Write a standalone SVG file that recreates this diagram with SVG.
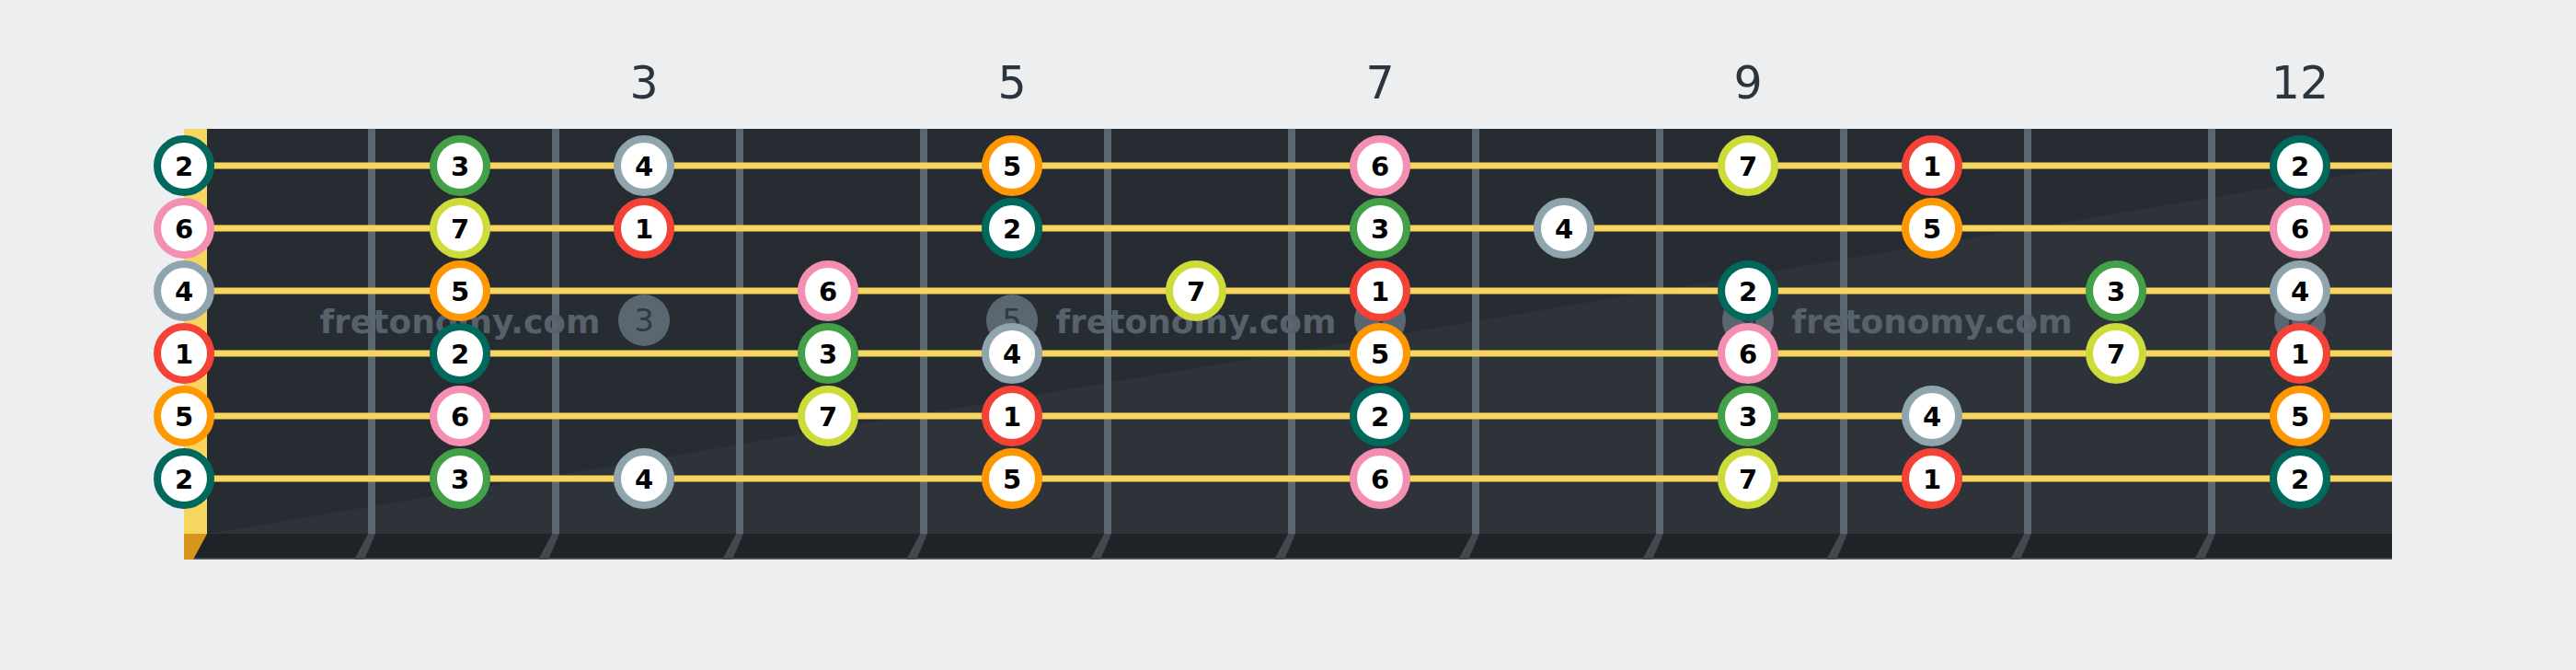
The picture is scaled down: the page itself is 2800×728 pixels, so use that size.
<svg xmlns="http://www.w3.org/2000/svg" width="2800" height="728" viewBox="0 0 2800 728">
<defs>
<style>
.fret{fill:#5a6771}
.fshadow{fill:#44484d}
.str{stroke:#f7d660;stroke-width:7}
.n circle{fill:#ffffff;stroke-width:8}
.n text{font-family:"DejaVu Sans","Liberation Sans",sans-serif;font-weight:bold;font-size:29px;fill:#000;text-anchor:middle}
.c1 circle{stroke:#f44336}
.c2 circle{stroke:#00695c}
.c3 circle{stroke:#43a047}
.c4 circle{stroke:#90a4ae}
.c5 circle{stroke:#ff9800}
.c6 circle{stroke:#f48fb1}
.c7 circle{stroke:#cddc39}
.fnum{font-family:"DejaVu Sans","Liberation Sans",sans-serif;font-size:49px;fill:#2b3540;text-anchor:middle}
.mk circle{fill:#5b6770}
.mk text{font-family:"DejaVu Sans","Liberation Sans",sans-serif;font-size:34px;fill:#2f3a44;text-anchor:middle}
.wm{font-family:"DejaVu Sans","Liberation Sans",sans-serif;font-weight:bold;font-size:36px;fill:#56616b;text-anchor:middle}
</style>
</defs>
<rect width="2800" height="728" fill="#eceef0"/>

<g id="fret-numbers">
<text class="fnum" x="700" y="107">3</text>
<text class="fnum" x="1100" y="107">5</text>
<text class="fnum" x="1500" y="107">7</text>
<text class="fnum" x="1900" y="107">9</text>
<text class="fnum" x="2500" y="107">12</text>
</g>

<g id="board">
<rect x="200" y="140" width="2400" height="440" fill="#272c33"/>
<polygon points="225,580 2600,182 2600,580" fill="#2e333a"/>
<rect x="200" y="580" width="2400" height="28" fill="#1f2327"/>
<rect x="200" y="606.5" width="2400" height="1.5" fill="#5c6770"/>
<polygon points="200,580 225,580 210,608 200,608" fill="#d8951c"/>
<rect x="200" y="140" width="25" height="440" fill="#f7d660"/>
</g>

<g id="frets">
<rect class="fret" x="400" y="140" width="8" height="440"/>
<rect class="fret" x="600" y="140" width="8" height="440"/>
<rect class="fret" x="800" y="140" width="8" height="440"/>
<rect class="fret" x="1000" y="140" width="8" height="440"/>
<rect class="fret" x="1200" y="140" width="8" height="440"/>
<rect class="fret" x="1400" y="140" width="8" height="440"/>
<rect class="fret" x="1600" y="140" width="8" height="440"/>
<rect class="fret" x="1800" y="140" width="8" height="440"/>
<rect class="fret" x="2000" y="140" width="8" height="440"/>
<rect class="fret" x="2200" y="140" width="8" height="440"/>
<rect class="fret" x="2400" y="140" width="8" height="440"/>
<polygon class="fshadow" points="400,580 408,580 396,608 385,608"/>
<polygon class="fshadow" points="600,580 608,580 596,608 585,608"/>
<polygon class="fshadow" points="800,580 808,580 796,608 785,608"/>
<polygon class="fshadow" points="1000,580 1008,580 996,608 985,608"/>
<polygon class="fshadow" points="1200,580 1208,580 1196,608 1185,608"/>
<polygon class="fshadow" points="1400,580 1408,580 1396,608 1385,608"/>
<polygon class="fshadow" points="1600,580 1608,580 1596,608 1585,608"/>
<polygon class="fshadow" points="1800,580 1808,580 1796,608 1785,608"/>
<polygon class="fshadow" points="2000,580 2008,580 1996,608 1985,608"/>
<polygon class="fshadow" points="2200,580 2208,580 2196,608 2185,608"/>
<polygon class="fshadow" points="2400,580 2408,580 2396,608 2385,608"/>
</g>

<g id="markers">
<g class="mk"><circle cx="700" cy="348" r="28"/><text x="700" y="360">3</text></g>
<g class="mk"><circle cx="1100" cy="348" r="28"/><text x="1100" y="360">5</text></g>
<g class="mk"><circle cx="1500" cy="348" r="28"/><text x="1500" y="360">7</text></g>
<g class="mk"><circle cx="1900" cy="348" r="28"/><text x="1900" y="360">9</text></g>
<g class="mk"><circle cx="2500" cy="348" r="28"/><text x="2500" y="360">12</text></g>
</g>

<g id="watermark">
<text class="wm" x="500" y="362">fretonomy.com</text>
<text class="wm" x="1300" y="362">fretonomy.com</text>
<text class="wm" x="2100" y="362">fretonomy.com</text>
</g>

<g id="strings">
<line class="str" x1="225" y1="180" x2="2600" y2="180"/>
<line class="str" x1="225" y1="248" x2="2600" y2="248"/>
<line class="str" x1="225" y1="316" x2="2600" y2="316"/>
<line class="str" x1="225" y1="384" x2="2600" y2="384"/>
<line class="str" x1="225" y1="452" x2="2600" y2="452"/>
<line class="str" x1="225" y1="520" x2="2600" y2="520"/>
</g>

<g id="notes">
<!-- string 1 -->
<g id="s1-f0" class="n c2"><circle cx="200" cy="180" r="29"/><text x="200" y="190.5">2</text></g>
<g id="s1-f2" class="n c3"><circle cx="500" cy="180" r="29"/><text x="500" y="190.5">3</text></g>
<g id="s1-f3" class="n c4"><circle cx="700" cy="180" r="29"/><text x="700" y="190.5">4</text></g>
<g id="s1-f5" class="n c5"><circle cx="1100" cy="180" r="29"/><text x="1100" y="190.5">5</text></g>
<g id="s1-f7" class="n c6"><circle cx="1500" cy="180" r="29"/><text x="1500" y="190.5">6</text></g>
<g id="s1-f9" class="n c7"><circle cx="1900" cy="180" r="29"/><text x="1900" y="190.5">7</text></g>
<g id="s1-f10" class="n c1"><circle cx="2100" cy="180" r="29"/><text x="2100" y="190.5">1</text></g>
<g id="s1-f12" class="n c2"><circle cx="2500" cy="180" r="29"/><text x="2500" y="190.5">2</text></g>
<!-- string 2 -->
<g id="s2-f0" class="n c6"><circle cx="200" cy="248" r="29"/><text x="200" y="258.5">6</text></g>
<g id="s2-f2" class="n c7"><circle cx="500" cy="248" r="29"/><text x="500" y="258.5">7</text></g>
<g id="s2-f3" class="n c1"><circle cx="700" cy="248" r="29"/><text x="700" y="258.5">1</text></g>
<g id="s2-f5" class="n c2"><circle cx="1100" cy="248" r="29"/><text x="1100" y="258.5">2</text></g>
<g id="s2-f7" class="n c3"><circle cx="1500" cy="248" r="29"/><text x="1500" y="258.5">3</text></g>
<g id="s2-f8" class="n c4"><circle cx="1700" cy="248" r="29"/><text x="1700" y="258.5">4</text></g>
<g id="s2-f10" class="n c5"><circle cx="2100" cy="248" r="29"/><text x="2100" y="258.5">5</text></g>
<g id="s2-f12" class="n c6"><circle cx="2500" cy="248" r="29"/><text x="2500" y="258.5">6</text></g>
<!-- string 3 -->
<g id="s3-f0" class="n c4"><circle cx="200" cy="316" r="29"/><text x="200" y="326.5">4</text></g>
<g id="s3-f2" class="n c5"><circle cx="500" cy="316" r="29"/><text x="500" y="326.5">5</text></g>
<g id="s3-f4" class="n c6"><circle cx="900" cy="316" r="29"/><text x="900" y="326.5">6</text></g>
<g id="s3-f6" class="n c7"><circle cx="1300" cy="316" r="29"/><text x="1300" y="326.5">7</text></g>
<g id="s3-f7" class="n c1"><circle cx="1500" cy="316" r="29"/><text x="1500" y="326.5">1</text></g>
<g id="s3-f9" class="n c2"><circle cx="1900" cy="316" r="29"/><text x="1900" y="326.5">2</text></g>
<g id="s3-f11" class="n c3"><circle cx="2300" cy="316" r="29"/><text x="2300" y="326.5">3</text></g>
<g id="s3-f12" class="n c4"><circle cx="2500" cy="316" r="29"/><text x="2500" y="326.5">4</text></g>
<!-- string 4 -->
<g id="s4-f0" class="n c1"><circle cx="200" cy="384" r="29"/><text x="200" y="394.5">1</text></g>
<g id="s4-f2" class="n c2"><circle cx="500" cy="384" r="29"/><text x="500" y="394.5">2</text></g>
<g id="s4-f4" class="n c3"><circle cx="900" cy="384" r="29"/><text x="900" y="394.5">3</text></g>
<g id="s4-f5" class="n c4"><circle cx="1100" cy="384" r="29"/><text x="1100" y="394.5">4</text></g>
<g id="s4-f7" class="n c5"><circle cx="1500" cy="384" r="29"/><text x="1500" y="394.5">5</text></g>
<g id="s4-f9" class="n c6"><circle cx="1900" cy="384" r="29"/><text x="1900" y="394.5">6</text></g>
<g id="s4-f11" class="n c7"><circle cx="2300" cy="384" r="29"/><text x="2300" y="394.5">7</text></g>
<g id="s4-f12" class="n c1"><circle cx="2500" cy="384" r="29"/><text x="2500" y="394.5">1</text></g>
<!-- string 5 -->
<g id="s5-f0" class="n c5"><circle cx="200" cy="452" r="29"/><text x="200" y="462.5">5</text></g>
<g id="s5-f2" class="n c6"><circle cx="500" cy="452" r="29"/><text x="500" y="462.5">6</text></g>
<g id="s5-f4" class="n c7"><circle cx="900" cy="452" r="29"/><text x="900" y="462.5">7</text></g>
<g id="s5-f5" class="n c1"><circle cx="1100" cy="452" r="29"/><text x="1100" y="462.5">1</text></g>
<g id="s5-f7" class="n c2"><circle cx="1500" cy="452" r="29"/><text x="1500" y="462.5">2</text></g>
<g id="s5-f9" class="n c3"><circle cx="1900" cy="452" r="29"/><text x="1900" y="462.5">3</text></g>
<g id="s5-f10" class="n c4"><circle cx="2100" cy="452" r="29"/><text x="2100" y="462.5">4</text></g>
<g id="s5-f12" class="n c5"><circle cx="2500" cy="452" r="29"/><text x="2500" y="462.5">5</text></g>
<!-- string 6 -->
<g id="s6-f0" class="n c2"><circle cx="200" cy="520" r="29"/><text x="200" y="530.5">2</text></g>
<g id="s6-f2" class="n c3"><circle cx="500" cy="520" r="29"/><text x="500" y="530.5">3</text></g>
<g id="s6-f3" class="n c4"><circle cx="700" cy="520" r="29"/><text x="700" y="530.5">4</text></g>
<g id="s6-f5" class="n c5"><circle cx="1100" cy="520" r="29"/><text x="1100" y="530.5">5</text></g>
<g id="s6-f7" class="n c6"><circle cx="1500" cy="520" r="29"/><text x="1500" y="530.5">6</text></g>
<g id="s6-f9" class="n c7"><circle cx="1900" cy="520" r="29"/><text x="1900" y="530.5">7</text></g>
<g id="s6-f10" class="n c1"><circle cx="2100" cy="520" r="29"/><text x="2100" y="530.5">1</text></g>
<g id="s6-f12" class="n c2"><circle cx="2500" cy="520" r="29"/><text x="2500" y="530.5">2</text></g>
</g>
</svg>
